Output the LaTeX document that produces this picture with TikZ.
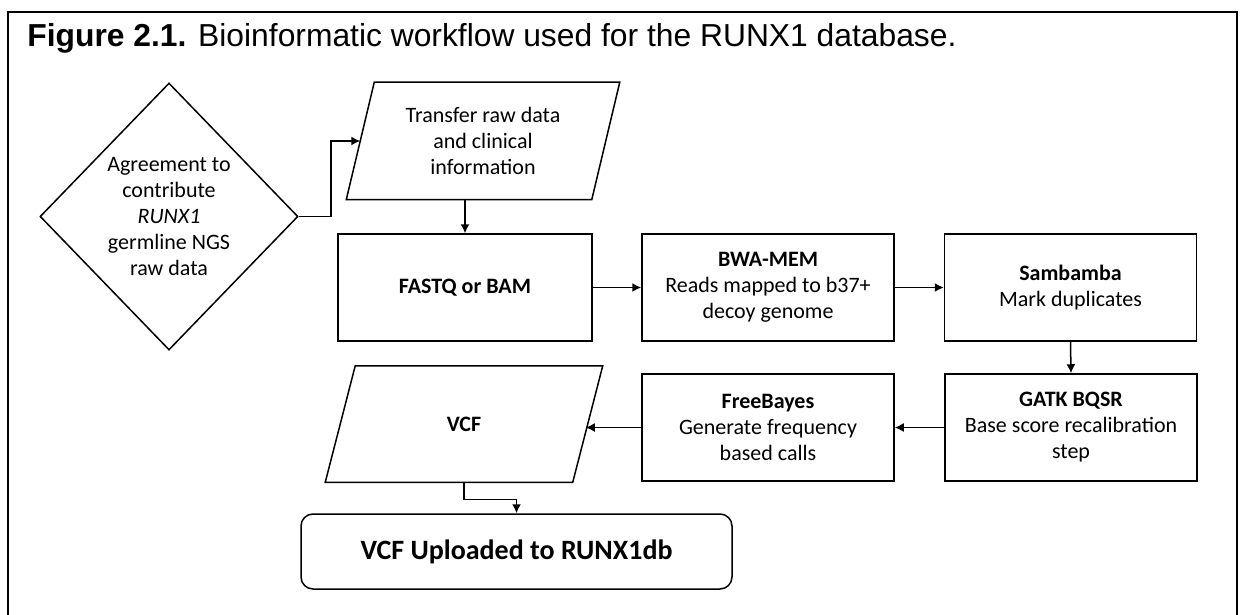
\documentclass[tikz,border=0pt]{standalone}
\usepackage{fontspec}
\setmainfont{Carlito}
\newfontfamily\arialfont{Liberation Sans}
\usetikzlibrary{shapes.geometric, arrows.meta}
\tikzstyle{process}=[draw, line width=0.75pt, minimum width=126pt, minimum height=53.5pt, align=center, inner sep=2pt, font=\fontsize{11}{13}\selectfont]
\tikzstyle{io}=[process, draw=none, minimum width=122pt, minimum height=58pt]
\tikzstyle{decision}=[diamond, draw, line width=0.75pt, minimum width=129pt, minimum height=133.5pt, inner sep=0pt, align=center, font=\fontsize{11}{13}\selectfont]
\tikzstyle{terminal}=[draw, line width=0.75pt, rounded corners=6pt, minimum width=215.5pt, minimum height=37.5pt, font=\fontsize{14}{17}\selectfont\bfseries]
\tikzstyle{arrow}=[line width=0.75pt, -{Latex[length=4.5pt, width=4.5pt]}]

\begin{document}
\begin{tikzpicture}[x=0.5pt, y=-0.5pt]
    \useasboundingbox (0,0) rectangle (1243,615);
    \draw [line width=1pt] (8,615) -- (8,12) -- (1237,12) -- (1237,615);
    \node [anchor=base west, inner sep=0pt] (title) at (27,47) {\arialfont\fontsize{15.9}{19}\selectfont\textbf{Figure 2.1.} Bioinformatic workflow used for the RUNX1 database.};
    \node [decision] (agree) at (169,216.5) {Agreement to\\contribute\\\textit{RUNX1}\\germline NGS\\raw data};
    \node [io] (transfer) at (483,141) {Transfer raw data\\and clinical\\information};
    \draw [line width=0.75pt] ([xshift=7pt]transfer.north west) -- ([xshift=7pt]transfer.north east) -- ([xshift=-7pt]transfer.south east) -- ([xshift=-7pt]transfer.south west) -- cycle;
    \node [process, minimum width=127pt] (fastq) at (465,287.5) {\textbf{FASTQ or BAM}};
    \node [process] (bwa) at (768,287.5) {\textbf{BWA-MEM}\\Reads mapped to b37+\\decoy genome};
    \node [process] (samb) at (1070.5,287.5) {\textbf{Sambamba}\\Mark duplicates};
    \node [process] (gatk) at (1071,427.5) {\textbf{GATK BQSR}\\Base score recalibration\\step};
    \node [process] (free) at (768,427.5) {\textbf{FreeBayes}\\Generate frequency\\based calls};
    \node [io, minimum width=123pt, minimum height=57.5pt] (vcf) at (464,424) {\textbf{VCF}};
    \draw [line width=0.75pt] ([xshift=7.5pt]vcf.north west) -- ([xshift=7.5pt]vcf.north east) -- ([xshift=-7.5pt]vcf.south east) -- ([xshift=-7.5pt]vcf.south west) -- cycle;
    \node [terminal] (upload) at (516.5,551.5) {VCF Uploaded to RUNX1db};
    % connectors
    \draw [arrow] (agree.east) -- ++(32,0) |- (transfer.west);
    \draw [arrow] (fastq.north |- transfer.south) -- (fastq.north);
    \draw [arrow] (fastq.east) -- (bwa.west);
    \draw [arrow] (bwa.east) -- (samb.west);
    \draw [arrow] (samb.south) -- (gatk.north);
    \draw [arrow] (gatk.west) -- (free.east);
    \draw [arrow] (free.west) -- ([xshift=-1pt]vcf.east |- free.west);
    \draw [arrow] (vcf.south) -- ++(0,17) -| (upload.north);
\end{tikzpicture}
\end{document}
